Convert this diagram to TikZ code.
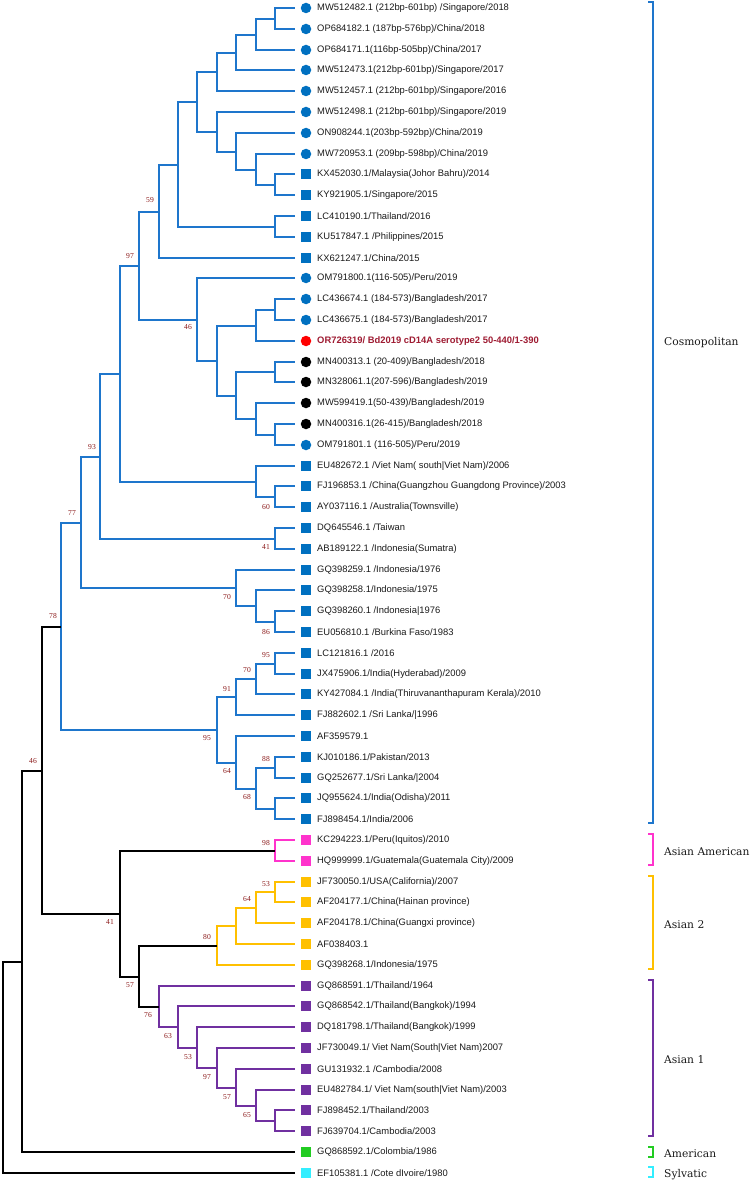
\documentclass[tikz,border=0pt]{standalone}
\usepackage{fontspec}
\setmainfont{Liberation Sans}
\newfontfamily\cladefont{DejaVu Serif}
\newfontfamily\bsfont{Liberation Serif}
\usetikzlibrary{calc}
\definecolor{cosmo}{RGB}{30,118,204}
\definecolor{cosmoM}{RGB}{0,112,192}
\definecolor{amam}{RGB}{255,51,204}
\definecolor{asiantwo}{RGB}{255,192,0}
\definecolor{asianone}{RGB}{112,48,160}
\definecolor{amer}{RGB}{34,204,34}
\definecolor{sylv}{RGB}{51,238,255}
\definecolor{bsred}{RGB}{139,26,26}
\definecolor{qred}{RGB}{158,27,50}
\definecolor{txt}{RGB}{26,26,26}
\tikzset{
  edge/.style={draw=#1,line width=1.8pt},
  circ/.style={circle,fill=#1,inner sep=0pt,minimum size=10.5pt},
  sq/.style={rectangle,fill=#1,inner sep=0pt,minimum size=10pt},
  leaftext/.style={anchor=west,inner sep=0pt,font=\fontsize{9.4}{11}\selectfont,text=txt},
  bs/.style={font=\bsfont\fontsize{7.6}{8}\selectfont,text=bsred,inner sep=0pt},
  clade/.style={anchor=west,inner sep=0pt,font=\cladefont\fontsize{10.7}{12}\selectfont,text=txt},
  bracket/.style={draw=#1,line width=1.8pt}
}
\newcommand\leaf[3]{%
  \pgfmathsetmacro\ly{round(8+(#1-1)*20.8)}%
  \coordinate (l#1) at (295,\ly);
  \node[#2] (m#1) at (306,\ly) {};
  \node[leaftext] (t#1) at (317,\ly) {#3};
}
\newcommand\tnode[5]{%
  \path let \p1=($(#3)!.5!(#4)$), \n1={round(\y1)*1pt}, \n2={round(3+19.45*#2)*1pt} in coordinate (#1) at (\n2,\n1);
  \draw[edge=#5] (#1) |- (#3);
  \draw[edge=#5] (#1) |- (#4);
}
\newcommand\clade[4]{% name, top, bottom, colour
  \coordinate (#1T) at (653,#2);
  \coordinate (#1B) at (653,#3);
  \draw[bracket=#4] ([xshift=-5pt]#1T) -- (#1T) -- (#1B) -- ([xshift=-5pt]#1B);
}
\begin{document}
\begin{tikzpicture}[x=1pt,y=-1pt]
\useasboundingbox (0,0) rectangle (751,1182);
% leaves
\leaf{1}{circ=cosmoM}{MW512482.1 (212bp-601bp) /Singapore/2018}
\leaf{2}{circ=cosmoM}{OP684182.1 (187bp-576bp)/China/2018}
\leaf{3}{circ=cosmoM}{OP684171.1(116bp-505bp)/China/2017}
\leaf{4}{circ=cosmoM}{MW512473.1(212bp-601bp)/Singapore/2017}
\leaf{5}{circ=cosmoM}{MW512457.1 (212bp-601bp)/Singapore/2016}
\leaf{6}{circ=cosmoM}{MW512498.1 (212bp-601bp)/Singapore/2019}
\leaf{7}{circ=cosmoM}{ON908244.1(203bp-592bp)/China/2019}
\leaf{8}{circ=cosmoM}{MW720953.1 (209bp-598bp)/China/2019}
\leaf{9}{sq=cosmoM}{KX452030.1/Malaysia(Johor Bahru)/2014}
\leaf{10}{sq=cosmoM}{KY921905.1/Singapore/2015}
\leaf{11}{sq=cosmoM}{LC410190.1/Thailand/2016}
\leaf{12}{sq=cosmoM}{KU517847.1 /Philippines/2015}
\leaf{13}{sq=cosmoM}{KX621247.1/China/2015}
\leaf{14}{circ=cosmoM}{OM791800.1(116-505)/Peru/2019}
\leaf{15}{circ=cosmoM}{LC436674.1 (184-573)/Bangladesh/2017}
\leaf{16}{circ=cosmoM}{LC436675.1 (184-573)/Bangladesh/2017}
\leaf{17}{circ=red}{\bfseries\color{qred}OR726319/ Bd2019 cD14A serotype2 50-440/1-390}
\leaf{18}{circ=black}{MN400313.1 (20-409)/Bangladesh/2018}
\leaf{19}{circ=black}{MN328061.1(207-596)/Bangladesh/2019}
\leaf{20}{circ=black}{MW599419.1(50-439)/Bangladesh/2019}
\leaf{21}{circ=black}{MN400316.1(26-415)/Bangladesh/2018}
\leaf{22}{circ=cosmoM}{OM791801.1 (116-505)/Peru/2019}
\leaf{23}{sq=cosmoM}{EU482672.1 /Viet Nam( south|Viet Nam)/2006}
\leaf{24}{sq=cosmoM}{FJ196853.1 /China(Guangzhou Guangdong Province)/2003}
\leaf{25}{sq=cosmoM}{AY037116.1 /Australia(Townsville)}
\leaf{26}{sq=cosmoM}{DQ645546.1 /Taiwan}
\leaf{27}{sq=cosmoM}{AB189122.1 /Indonesia(Sumatra)}
\leaf{28}{sq=cosmoM}{GQ398259.1 /Indonesia/1976}
\leaf{29}{sq=cosmoM}{GQ398258.1/Indonesia/1975}
\leaf{30}{sq=cosmoM}{GQ398260.1 /Indonesia|1976}
\leaf{31}{sq=cosmoM}{EU056810.1 /Burkina Faso/1983}
\leaf{32}{sq=cosmoM}{LC121816.1 /2016}
\leaf{33}{sq=cosmoM}{JX475906.1/India(Hyderabad)/2009}
\leaf{34}{sq=cosmoM}{KY427084.1 /India(Thiruvananthapuram Kerala)/2010}
\leaf{35}{sq=cosmoM}{FJ882602.1 /Sri Lanka/|1996}
\leaf{36}{sq=cosmoM}{AF359579.1}
\leaf{37}{sq=cosmoM}{KJ010186.1/Pakistan/2013}
\leaf{38}{sq=cosmoM}{GQ252677.1/Sri Lanka/|2004}
\leaf{39}{sq=cosmoM}{JQ955624.1/India(Odisha)/2011}
\leaf{40}{sq=cosmoM}{FJ898454.1/India/2006}
\leaf{41}{sq=amam}{KC294223.1/Peru(Iquitos)/2010}
\leaf{42}{sq=amam}{HQ999999.1/Guatemala(Guatemala City)/2009}
\leaf{43}{sq=asiantwo}{JF730050.1/USA(California)/2007}
\leaf{44}{sq=asiantwo}{AF204177.1/China(Hainan province)}
\leaf{45}{sq=asiantwo}{AF204178.1/China(Guangxi province)}
\leaf{46}{sq=asiantwo}{AF038403.1}
\leaf{47}{sq=asiantwo}{GQ398268.1/Indonesia/1975}
\leaf{48}{sq=asianone}{GQ868591.1/Thailand/1964}
\leaf{49}{sq=asianone}{GQ868542.1/Thailand(Bangkok)/1994}
\leaf{50}{sq=asianone}{DQ181798.1/Thailand(Bangkok)/1999}
\leaf{51}{sq=asianone}{JF730049.1/ Viet Nam(South|Viet Nam)2007}
\leaf{52}{sq=asianone}{GU131932.1 /Cambodia/2008}
\leaf{53}{sq=asianone}{EU482784.1/ Viet Nam(south|Viet Nam)/2003}
\leaf{54}{sq=asianone}{FJ898452.1/Thailand/2003}
\leaf{55}{sq=asianone}{FJ639704.1/Cambodia/2003}
\leaf{56}{sq=amer}{GQ868592.1/Colombia/1986}
\leaf{57}{sq=sylv}{EF105381.1 /Cote dIvoire/1980}
% Cosmopolitan internal nodes
\tnode{n12}{14}{l1}{l2}{cosmo}
\tnode{n13}{13}{n12}{l3}{cosmo}
\tnode{n14}{12}{n13}{l4}{cosmo}
\tnode{n15}{11}{n14}{l5}{cosmo}
\tnode{n910}{14}{l9}{l10}{cosmo}
\tnode{n810}{13}{l8}{n910}{cosmo}
\tnode{n710}{12}{l7}{n810}{cosmo}
\tnode{n610}{11}{l6}{n710}{cosmo}
\tnode{n110}{10}{n15}{n610}{cosmo}
\tnode{n1112}{14}{l11}{l12}{cosmo}
\tnode{n112}{9}{n110}{n1112}{cosmo}
\tnode{n113}{8}{n112}{l13}{cosmo}
\tnode{n1516}{14}{l15}{l16}{cosmo}
\tnode{n1517}{13}{n1516}{l17}{cosmo}
\tnode{n1819}{14}{l18}{l19}{cosmo}
\tnode{n2122}{14}{l21}{l22}{cosmo}
\tnode{n2022}{13}{l20}{n2122}{cosmo}
\tnode{n1822}{12}{n1819}{n2022}{cosmo}
\tnode{n1522}{11}{n1517}{n1822}{cosmo}
\tnode{n1422}{10}{l14}{n1522}{cosmo}
\tnode{n122}{7}{n113}{n1422}{cosmo}
\tnode{n2425}{14}{l24}{l25}{cosmo}
\tnode{n2325}{13}{l23}{n2425}{cosmo}
\tnode{n125}{6}{n122}{n2325}{cosmo}
\tnode{n2627}{14}{l26}{l27}{cosmo}
\tnode{n127}{5}{n125}{n2627}{cosmo}
\tnode{n3031}{14}{l30}{l31}{cosmo}
\tnode{n2931}{13}{l29}{n3031}{cosmo}
\tnode{n2831}{12}{l28}{n2931}{cosmo}
\tnode{n131}{4}{n127}{n2831}{cosmo}
\tnode{n3233}{14}{l32}{l33}{cosmo}
\tnode{n3234}{13}{n3233}{l34}{cosmo}
\tnode{n3235}{12}{n3234}{l35}{cosmo}
\tnode{n3738}{14}{l37}{l38}{cosmo}
\tnode{n3940}{14}{l39}{l40}{cosmo}
\tnode{n3740}{13}{n3738}{n3940}{cosmo}
\tnode{n3640}{12}{l36}{n3740}{cosmo}
\tnode{n3240}{11}{n3235}{n3640}{cosmo}
\tnode{ncos}{3}{n131}{n3240}{cosmo}
% Asian American
\tnode{n4142}{14}{l41}{l42}{amam}
% Asian 2
\tnode{n4344}{14}{l43}{l44}{asiantwo}
\tnode{n4345}{13}{n4344}{l45}{asiantwo}
\tnode{n4346}{12}{n4345}{l46}{asiantwo}
\tnode{n4347}{11}{n4346}{l47}{asiantwo}
% Asian 1
\tnode{n5455}{14}{l54}{l55}{asianone}
\tnode{n5355}{13}{l53}{n5455}{asianone}
\tnode{n5255}{12}{l52}{n5355}{asianone}
\tnode{n5155}{11}{l51}{n5255}{asianone}
\tnode{n5055}{10}{l50}{n5155}{asianone}
\tnode{n4955}{9}{l49}{n5055}{asianone}
\tnode{n4855}{8}{l48}{n4955}{asianone}
% backbone
\tnode{nAs}{7}{n4347}{n4855}{black}
\tnode{nD}{6}{n4142}{nAs}{black}
\tnode{nB}{2}{ncos}{nD}{black}
\tnode{nA}{1}{nB}{l56}{black}
\tnode{nR}{0}{nA}{l57}{black}
% bootstrap values
\foreach \bx/\by/\bt [count=\i] in {150/200/59,130/256/97,188/327/46,92/447/93,266/507/60,266/547/41,72/513/77,227/597/70,266/632/86,53/616/78,266/655/95,247/670/70,227/689/91,207/738/95,266/759/88,227/771/64,247/797/68,33/761/46,266/843/98,266/884/53,247/899/64,207/937/80,110/922/41,130/985/57,148/1015/76,168/1036/63,188/1057/53,207/1077/97,227/1097/57,247/1115/65}
  \node[bs] (b\i) at (\bx,\by) {\bt};
% clade brackets
\clade{cos}{2}{823}{cosmo}
\clade{aam}{834}{865}{amam}
\clade{atwo}{876}{969}{asiantwo}
\clade{aone}{980}{1136}{asianone}
\clade{ame}{1147}{1157}{amer}
\clade{syl}{1167}{1177}{sylv}
\node[clade] (lcos) at (664,343) {Cosmopolitan};
\node[clade] (laam) at (664,852) {Asian American};
\node[clade] (latwo) at (664,925) {Asian 2};
\node[clade] (laone) at (664,1060) {Asian 1};
\node[clade] (lame) at (664,1154) {American};
\node[clade] (lsyl) at (664,1175) {Sylvatic};
\end{tikzpicture}
\end{document}
